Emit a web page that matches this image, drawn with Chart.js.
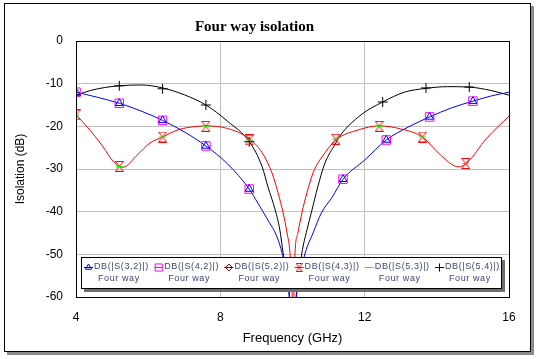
<!DOCTYPE html>
<html>
<head>
<meta charset="utf-8">
<script src="https://cdn.jsdelivr.net/npm/chart.js@4/dist/chart.umd.min.js"></script>
<style>
  html, body { margin: 0; padding: 0; background: #fff; }
  canvas { display: block; }
</style>
</head>
<body>
<canvas id="chart" width="538" height="359"></canvas>
<script>
"use strict";

// ---- values (GHz / dB) ----
const TITLE = "Four way isolation";
const X_TITLE = "Frequency (GHz)";
const Y_TITLE = "Isolation (dB)";
const LABELS = ["DB(|S(3,2)|)", "DB(|S(4,2)|)", "DB(|S(5,2)|)", "DB(|S(4,3)|)", "DB(|S(5,3)|)", "DB(|S(5,4)|)"];
const SUBLABEL = "Four way";

// S(3,2) – S(4,2) sits right under it
const S32_F  = [4.0, 4.6, 5.2, 5.8, 6.4, 7.0, 7.6, 8.2, 8.8, 9.04, 9.32, 9.57, 9.71, 9.85, 9.9, 10.0, 10.12, 10.22, 10.35, 10.57, 10.8, 11.1, 11.4, 12.0, 12.6, 13.2, 13.8, 14.4, 15.0, 15.5, 16.0];
const S32_DB = [-12.0, -13.2, -14.6, -16.4, -18.6, -21.3, -24.6, -28.8, -34.7, -38.0, -42.0, -45.9, -49.7, -55.5, -59, -75, -59, -54.5, -49.7, -45.0, -40.3, -36.6, -32.4, -27.9, -23.2, -20.2, -17.8, -15.7, -14.1, -12.9, -12.0];

// S(4,3) – S(5,2) and S(5,3) sit right under it
const S43_F  = [4.0, 4.39, 4.75, 5.02, 5.3, 5.7, 6.05, 6.4, 6.8, 7.16, 7.6, 8.2, 8.8, 9.16, 9.43, 9.6, 9.74, 9.85, 9.93, 9.99, 10.015, 10.04, 10.07, 10.15, 10.26, 10.4, 10.57, 10.9, 11.23, 11.8, 12.4, 13.0, 13.6, 14.1, 14.6, 14.83, 15.38, 16.0];
const S43_DB = [-17.3, -20.9, -24.8, -28.1, -29.6, -26.7, -23.9, -22.5, -20.9, -20.2, -19.9, -20.5, -22.9, -26.2, -30.9, -35.6, -40.3, -45.0, -49.7, -59, -75, -59, -49.7, -45.0, -40.3, -35.6, -30.9, -26.2, -23.0, -20.9, -19.9, -20.6, -22.5, -26.7, -29.5, -28.6, -22.8, -17.6];

// S(5,4)
const S54_F  = [4.0, 4.4, 4.8, 5.2, 5.8, 6.4, 7.0, 7.6, 8.2, 8.82, 9.16, 9.32, 9.52, 9.65, 9.74, 9.85, 9.92, 10.0, 10.1, 10.18, 10.26, 10.4, 10.54, 10.7, 10.9, 11.18, 11.3, 11.9, 12.5, 13.1, 13.7, 14.3, 14.9, 15.5, 16.0];
const S54_DB = [-12.7, -11.6, -10.9, -10.5, -10.3, -11.0, -12.6, -15.0, -18.8, -23.8, -29.5, -34.2, -39.6, -44.3, -49.7, -56, -60, -75, -60, -55, -49.7, -44.3, -39.6, -34.2, -28.6, -24.2, -22.4, -17.3, -14.3, -12.0, -11.1, -10.7, -10.8, -11.6, -12.7];

// marker positions
const MK32_F  = [4.0, 5.2, 6.4, 7.6, 8.8, 11.4, 12.6, 13.8, 15.0];
const MK32_DB = [-12.0, -14.6, -18.6, -24.6, -34.7, -32.4, -23.2, -17.8, -14.1];
const MK43_F  = [4.0, 5.2, 6.4, 7.6, 8.8, 11.2, 12.4, 13.6, 14.8];
const MK43_DB = [-17.3, -29.4, -22.5, -20.0, -23.2, -23.0, -20.0, -22.5, -28.7];
const MK54_F  = [4.0, 5.2, 6.4, 7.6, 8.8, 12.5, 13.7, 14.9];
const MK54_DB = [-12.7, -10.5, -11.2, -15.0, -23.6, -14.3, -11.0, -10.8];

const pts = (f, db) => f.map((x, i) => ({ x, y: db[i] }));

function hourglass(color, w, h) {
  const c = document.createElement("canvas");
  c.width = w; c.height = h;
  const g = c.getContext("2d");
  g.strokeStyle = color;
  g.lineWidth = 1;
  g.beginPath();
  g.moveTo(0.5, 0.5); g.lineTo(w - 0.5, 0.5); g.lineTo(0.5, h - 0.5); g.lineTo(w - 0.5, h - 0.5); g.closePath();
  g.stroke();
  return c;
}

const FONT = "'Liberation Sans', Arial, sans-serif";

// one entry per trace; traces that sit exactly under another one only show their markers
const SERIES = [
  { color: "#0000ff", line: [S32_F, S32_DB], mk: [MK32_F, MK32_DB], style: "triangle", r: 4.5, lr: 3.5, show: true,  lineOrder: 10, mkOrder: 4 },
  { color: "#ff00ff", line: [S32_F, S32_DB], mk: [MK32_F, MK32_DB], style: "rect", r: 6, lr: 5, show: false, lineOrder: 11, mkOrder: 5 },
  { color: "#800000", line: [S43_F, S43_DB], mk: [MK43_F, MK43_DB], style: "rectRot", r: 0, lr: 3.5, show: false, lineOrder: 13, mkOrder: 2 },
  { color: "#ff0000", line: [S43_F, S43_DB], mk: [MK43_F, MK43_DB], style: hourglass("#ff0000", 9, 11), lstyle: hourglass("#ff0000", 7, 9), r: 5, lr: 4, show: true, lineOrder: 12, mkOrder: 1 },
  { color: "#00ff00", line: [S43_F, S43_DB], mk: [MK43_F, MK43_DB], style: "line", r: 3.5, lr: 0, show: false, lineOrder: 14, mkOrder: 0 },
  { color: "#000000", line: [S54_F, S54_DB], mk: [MK54_F, MK54_DB], style: "cross", r: 5, lr: 4, show: true, lineOrder: 15, mkOrder: 3 },
];

const datasets = [];
SERIES.forEach((s, i) => {
  datasets.push({
    label: LABELS[i],
    data: pts(s.line[0], s.line[1]),
    showLine: s.show,
    borderColor: s.color,
    borderWidth: 1,
    pointRadius: 0,
    cubicInterpolationMode: "monotone",
    order: s.lineOrder,
  });
  datasets.push({
    label: LABELS[i] + " markers",
    data: pts(s.mk[0], s.mk[1]),
    showLine: false,
    pointStyle: s.style,
    pointRadius: s.r,
    borderColor: s.color,
    backgroundColor: "rgba(0,0,0,0)",
    borderWidth: 1,
    order: s.mkOrder,
  });
});

// white page, framed with a drop shadow
const framePlugin = {
  id: "frame",
  beforeDraw(chart) {
    const ctx = chart.ctx;
    ctx.save();
    ctx.fillStyle = "#fff";
    ctx.fillRect(0, 0, chart.width, chart.height);
    ctx.fillStyle = "#8c8c8c";
    ctx.fillRect(7, 6, 527, 349);
    ctx.fillStyle = "#fff";
    ctx.fillRect(4, 3, 527, 349);
    ctx.strokeStyle = "#000";
    ctx.lineWidth = 1;
    ctx.strokeRect(4.5, 3.5, 526, 348);
    ctx.restore();
  },
  afterDraw(chart) {
    const { ctx, chartArea: a } = chart;
    ctx.save();
    ctx.strokeStyle = "#000";
    ctx.lineWidth = 1;
    ctx.strokeRect(Math.round(a.left) + 0.5, Math.round(a.top) + 0.5, Math.round(a.right - a.left), Math.round(a.bottom - a.top));
    ctx.restore();
  },
};

// legend box inside the plot, bottom
const boxLegend = {
  id: "boxLegend",
  afterDatasetsDraw(chart) {
    const { ctx, chartArea: a } = chart;
    const x = Math.round(a.left) + 5, y = Math.round(a.bottom) - 40, w = 421, h = 32;
    ctx.save();
    ctx.fillStyle = "#6e6e6e";
    ctx.fillRect(x + 3, y + 3, w, h);
    ctx.fillStyle = "#fff";
    ctx.fillRect(x, y, w, h);
    ctx.strokeStyle = "#000";
    ctx.lineWidth = 1;
    ctx.strokeRect(x + 0.5, y + 0.5, w - 1, h - 1);

    ctx.font = "9px " + FONT;
    ctx.letterSpacing = "0.6px";
    ctx.textBaseline = "middle";
    SERIES.forEach((s, i) => {
      const x0 = x + 3 + i * 70.2;
      const yl = y + 10;
      ctx.strokeStyle = s.color;
      ctx.lineWidth = 1;
      ctx.beginPath();
      ctx.moveTo(x0, yl + 0.5);
      ctx.lineTo(x0 + 9, yl + 0.5);
      ctx.stroke();
      ctx.fillStyle = "rgba(0,0,0,0)";
      if (s.lr > 0) {
        Chart.helpers.drawPoint(ctx, { pointStyle: s.lstyle || s.style, radius: s.lr, rotation: 0, borderWidth: 1 }, x0 + 4.5, yl + 0.5);
      }
      ctx.fillStyle = "#3c4678";
      ctx.fillText(LABELS[i], x0 + 10, yl);
      ctx.fillText(SUBLABEL, x0 + 14, y + 21.5);
    });
    ctx.restore();
  },
};

new Chart(document.getElementById("chart"), {
  type: "line",
  data: { datasets },
  plugins: [framePlugin, boxLegend],
  options: {
    responsive: false,
    animation: false,
    events: [],
    layout: { padding: { left: 0, right: 29, top: 0, bottom: 0 } },
    plugins: {
      legend: { display: false },
      tooltip: { enabled: false },
      title: {
        display: true,
        text: TITLE,
        color: "#000",
        font: { family: "'Liberation Serif', 'Times New Roman', serif", size: 15, weight: "bold" },
        padding: { top: 18, bottom: 5 },
      },
    },
    scales: {
      x: {
        type: "linear",
        min: 4, max: 16,
        afterFit: (s) => { s.height = 62; },
        ticks: { stepSize: 4, color: "#000", font: { family: FONT, size: 12 }, padding: 13 },
        grid: { color: "#c0c0c0", drawTicks: false },
        border: { display: true, color: "#000" },
        title: { display: true, text: X_TITLE, color: "#000", font: { family: FONT, size: 13 }, padding: { bottom: 13 } },
      },
      y: {
        min: -60, max: 0,
        afterFit: (s) => { s.width = 76; },
        ticks: { stepSize: 10, color: "#000", font: { family: FONT, size: 12 }, padding: 13 },
        grid: { color: "#c0c0c0", drawTicks: false },
        border: { display: true, color: "#000" },
        title: { display: true, text: Y_TITLE, color: "#000", font: { family: FONT, size: 12 }, padding: { top: 13 } },
      },
    },
  },
});
</script>
</body>
</html>
